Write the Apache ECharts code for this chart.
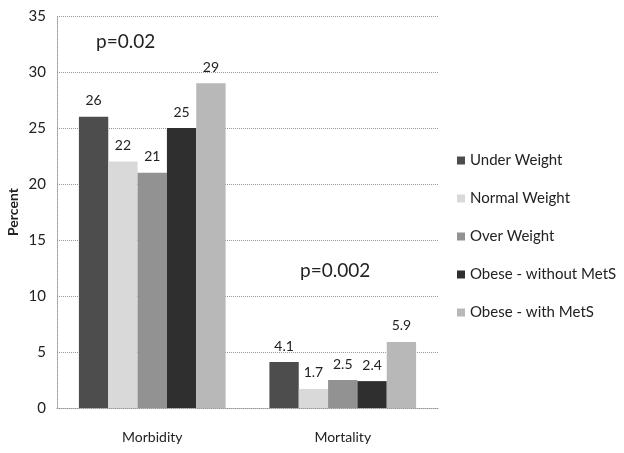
<!DOCTYPE html>
<html><head><meta charset="utf-8">
<script src="https://cdn.jsdelivr.net/npm/echarts@6/dist/echarts.min.js"></script>
<style>html,body{margin:0;padding:0;background:#fff}#c{width:624px;height:453px}</style>
</head><body><div id="c"></div>
<script>
const categories = ['Morbidity', 'Mortality'];
const seriesNames = ['Under Weight', 'Normal Weight', 'Over Weight', 'Obese - without MetS', 'Obese - with MetS'];
const underWeight = [26, 4.1];
const normalWeight = [22, 1.7];
const overWeight = [21, 2.5];
const obeseWithout = [25, 2.4];
const obeseWith = [29, 5.9];
const colors = ['#4d4d4d', '#d9d9d9', '#929292', '#2f2f2f', '#b8b8b8'];
const values = [underWeight, normalWeight, overWeight, obeseWithout, obeseWith];
const font = 'Lato, "Open Sans", sans-serif';

const chart = echarts.init(document.getElementById('c'));
chart.setOption({
  animation: false,
  textStyle: { fontFamily: font },
  color: colors,
  grid: { left: 57, right: 186, top: 16, bottom: 45, containLabel: false, outerBoundsMode: 'none' },
  legend: {
    orient: 'vertical', left: 452, top: 148,
    itemWidth: 8, itemHeight: 8, itemGap: 23, icon: 'rect',
    textStyle: { fontSize: 15, color: '#222', fontFamily: font }
  },
  xAxis: {
    type: 'category', data: categories,
    axisLine: { lineStyle: { color: '#999', type: 'dotted' } },
    axisTick: { show: false },
    axisLabel: { fontSize: 14, color: '#222', margin: 22 }
  },
  yAxis: {
    type: 'value', min: 0, max: 35, interval: 5,
    name: 'Percent', nameLocation: 'middle', nameGap: 37, nameRotate: 90,
    nameMoveOverlap: false,
    nameTextStyle: { fontSize: 14, fontWeight: 'bold', color: '#222' },
    axisLine: { show: true, lineStyle: { color: '#999', type: 'dotted' } },
    axisTick: { show: false },
    axisLabel: { fontSize: 15, color: '#222', margin: 11 },
    splitLine: { lineStyle: { color: '#999', type: 'dotted' } }
  },
  series: seriesNames.map((n, i) => ({
    name: n, type: 'bar', data: values[i],
    barGap: '0%', barCategoryGap: '23%',
    itemStyle: { color: colors[i] },
    label: { show: true, position: 'top', distance: 9, fontSize: 14, color: '#222' }
  })),
  graphic: [
    { type: 'text', left: 96, top: 32, style: { text: 'p=0.02', fontSize: 19, fill: '#222', fontFamily: font } },
    { type: 'text', left: 300, top: 261, style: { text: 'p=0.002', fontSize: 19, fill: '#222', fontFamily: font } }
  ]
});
</script></body></html>
